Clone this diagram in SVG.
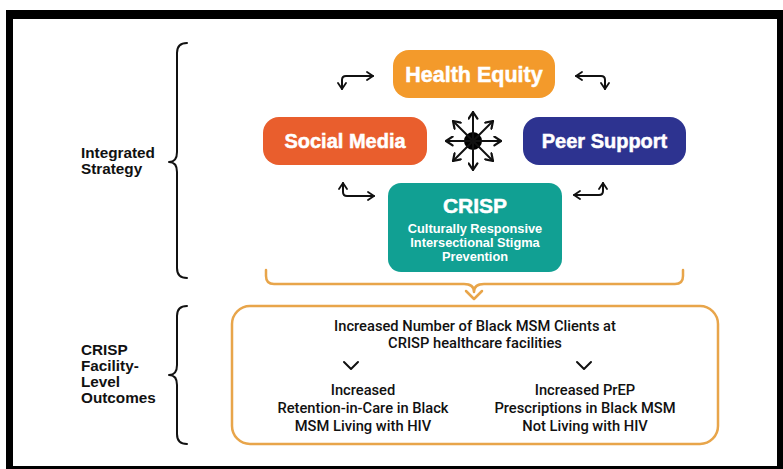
<svg xmlns="http://www.w3.org/2000/svg" width="783" height="469" viewBox="0 0 783 469">
<defs>
<style>
.pill{font-family:"Liberation Sans",Arial,sans-serif;font-weight:bold;fill:#fff;stroke:#fff;stroke-width:0.5;text-anchor:middle}
.sub{font-family:"Liberation Sans",Arial,sans-serif;font-weight:bold;fill:#fff;text-anchor:middle;font-size:12.8px}
.lbl{font-family:"Liberation Sans",Arial,sans-serif;font-weight:bold;font-size:15.3px;fill:#111}
.out{font-family:Roboto,"Liberation Sans",sans-serif;font-weight:500;font-size:14.7px;fill:#111;text-anchor:middle}
.ln{fill:none;stroke:#111;stroke-width:2;stroke-linecap:round;stroke-linejoin:round}
.or{fill:none;stroke:#E8A54A;stroke-width:2.5;stroke-linecap:round;stroke-linejoin:round}
</style>
<marker id="ah" viewBox="0 0 10 10" refX="9" refY="5" markerWidth="10" markerHeight="10" markerUnits="userSpaceOnUse" orient="auto-start-reverse">
<polyline points="3,1 9,5 3,9" fill="none" stroke="#111" stroke-width="1.8" stroke-linecap="round" stroke-linejoin="round"/>
</marker>
<marker id="ah2" viewBox="0 0 10 10" refX="9" refY="5" markerWidth="11" markerHeight="11" markerUnits="userSpaceOnUse" orient="auto">
<polyline points="3,1 9,5 3,9" fill="none" stroke="#111" stroke-width="2" stroke-linecap="round" stroke-linejoin="round"/>
</marker>
</defs>
<rect x="0" y="0" width="783" height="469" fill="#fff"/>
<rect x="6" y="10" width="777" height="459" fill="#000"/>
<rect x="13" y="19" width="764" height="447" fill="#fff"/>

<g id="braces">
<path class="ln" d="M187,43 Q177,43 177,53 L177,152 Q177,162 169,162 Q177,162 177,172 L177,268 Q177,278 187,278"/>
<path class="ln" d="M187,306 Q177,306 177,316 L177,365 Q177,375 169,375 Q177,375 177,385 L177,434 Q177,444 187,444"/>
</g>
<g id="label-integrated">
<text class="lbl" x="81" y="158">Integrated</text>
<text class="lbl" x="81" y="174">Strategy</text>
</g>
<g id="label-outcomes">
<text class="lbl" x="81" y="355">CRISP</text>
<text class="lbl" x="81" y="371">Facility-</text>
<text class="lbl" x="81" y="387">Level</text>
<text class="lbl" x="81" y="403">Outcomes</text>
</g>

<g id="health-equity">
<rect x="393" y="50" width="162" height="48" rx="16" fill="#F39A2B"/>
<text class="pill" x="474" y="82" font-size="21.5">Health Equity</text>
</g>
<g id="social-media">
<rect x="263" y="117" width="164" height="48" rx="16" fill="#E95E2D"/>
<text class="pill" x="345" y="148" font-size="20">Social Media</text>
</g>
<g id="peer-support">
<rect x="523" y="117" width="163" height="48" rx="16" fill="#2D3390"/>
<text class="pill" x="604.5" y="148" font-size="20">Peer Support</text>
</g>
<g id="crisp">
<rect x="388" y="183" width="174" height="89" rx="13" fill="#11A093"/>
<text class="pill" x="475" y="213" font-size="21">CRISP</text>
<text class="sub" x="475" y="233">Culturally Responsive</text>
<text class="sub" x="475" y="247">Intersectional Stigma</text>
<text class="sub" x="475" y="261">Prevention</text>
</g>

<g id="connectors">
<path class="ln" d="M342,89 L342,80 Q342,76 346,76 L373,76" marker-start="url(#ah)" marker-end="url(#ah)"/>
<path class="ln" d="M605,89 L605,80 Q605,76 601,76 L576,76" marker-start="url(#ah)" marker-end="url(#ah)"/>
<path class="ln" d="M343,183 L343,192 Q343,196 347,196 L374,196" marker-start="url(#ah)" marker-end="url(#ah)"/>
<path class="ln" d="M603,183 L603,191 Q603,195 599,195 L574,195" marker-start="url(#ah)" marker-end="url(#ah)"/>
<g id="hub">
<circle cx="473" cy="141" r="9" fill="#000"/>
<line class="ln" x1="473" y1="141" x2="473" y2="112" marker-end="url(#ah2)"/>
<line class="ln" x1="473" y1="141" x2="473" y2="170" marker-end="url(#ah2)"/>
<line class="ln" x1="473" y1="141" x2="446" y2="141" marker-end="url(#ah2)"/>
<line class="ln" x1="473" y1="141" x2="501" y2="141" marker-end="url(#ah2)"/>
<line class="ln" x1="473" y1="141" x2="453" y2="121" marker-end="url(#ah2)"/>
<line class="ln" x1="473" y1="141" x2="493" y2="121" marker-end="url(#ah2)"/>
<line class="ln" x1="473" y1="141" x2="453" y2="161" marker-end="url(#ah2)"/>
<line class="ln" x1="473" y1="141" x2="493" y2="161" marker-end="url(#ah2)"/>
</g>
<path class="or" d="M266,270 L266,276 Q266,284 274,284 L464,284 Q474,284 474,292 Q474,284 484,284 L675,284 Q683,284 683,276 L683,270"/>
<polyline class="or" points="466,291 474,299 482,291"/>
<polyline class="ln" points="344,362 351,369 358,362"/>
<polyline class="ln" points="577,362 584,369 591,362"/>
</g>

<g id="outcomes">
<rect x="232" y="306" width="486" height="138" rx="18" fill="none" stroke="#E8A54A" stroke-width="2.5"/>
<text class="out" x="475" y="331">Increased Number of Black MSM Clients at</text>
<text class="out" x="475" y="348">CRISP healthcare facilities</text>
<text class="out" x="363" y="395">Increased</text>
<text class="out" x="363" y="413">Retention-in-Care in Black</text>
<text class="out" x="363" y="431">MSM Living with HIV</text>
<text class="out" x="585" y="395">Increased PrEP</text>
<text class="out" x="585" y="413">Prescriptions in Black MSM</text>
<text class="out" x="585" y="431">Not Living with HIV</text>
</g>
</svg>
